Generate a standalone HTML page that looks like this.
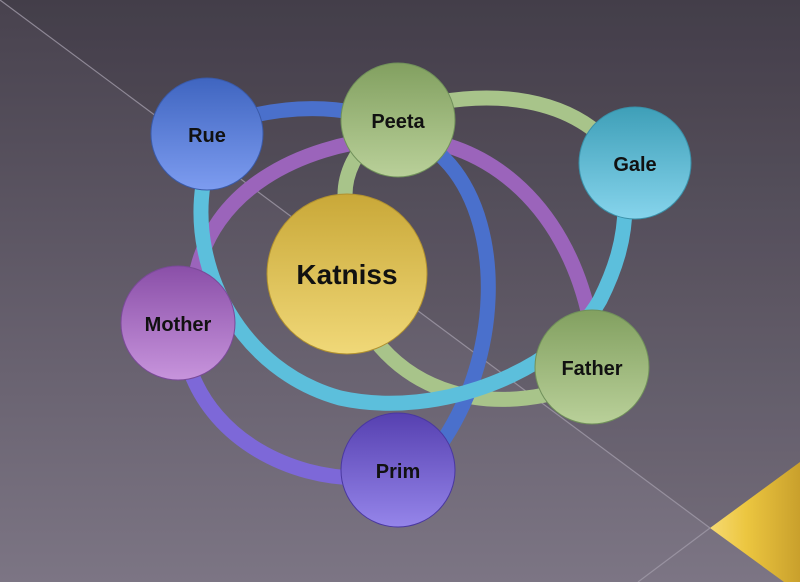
<!DOCTYPE html>
<html><head><meta charset="utf-8"><style>
html,body{margin:0;padding:0;width:800px;height:582px;overflow:hidden}
svg{display:block}
text{font-family:"Liberation Sans",sans-serif;font-weight:bold;fill:#111;text-anchor:middle}
</style></head><body>
<svg width="800" height="582" viewBox="0 0 800 582">
<defs>
<linearGradient id="bg" x1="0" y1="0" x2="0" y2="1">
<stop offset="0" stop-color="#48424e"/><stop offset="1" stop-color="#7c7584"/></linearGradient>
<linearGradient id="yel" x1="0" y1="0" x2="1" y2="0">
<stop offset="0" stop-color="#f6da72"/><stop offset="0.4" stop-color="#ecc640"/><stop offset="1" stop-color="#c9a02c"/></linearGradient>
<linearGradient id="gBlue" x1="0" y1="0" x2="0" y2="1"><stop offset="0" stop-color="#3f65c0"/><stop offset="1" stop-color="#7d9cf0"/></linearGradient>
<linearGradient id="gGreen" x1="0" y1="0" x2="0" y2="1"><stop offset="0" stop-color="#82a060"/><stop offset="1" stop-color="#b9d099"/></linearGradient>
<linearGradient id="gCyan" x1="0" y1="0" x2="0" y2="1"><stop offset="0" stop-color="#3e9fb8"/><stop offset="1" stop-color="#86d4ec"/></linearGradient>
<linearGradient id="gPurp" x1="0" y1="0" x2="0" y2="1"><stop offset="0" stop-color="#8a4fa8"/><stop offset="1" stop-color="#c794dc"/></linearGradient>
<linearGradient id="gViol" x1="0" y1="0" x2="0" y2="1"><stop offset="0" stop-color="#5640b0"/><stop offset="1" stop-color="#9585ea"/></linearGradient>
<linearGradient id="gYel" x1="0" y1="0" x2="0" y2="1"><stop offset="0" stop-color="#c9a838"/><stop offset="1" stop-color="#f0d878"/></linearGradient>
</defs>
<rect width="800" height="582" fill="url(#bg)"/>
<polygon points="0,0 800,0 800,465 710,528" fill="#000" opacity="0.06"/>
<line x1="0" y1="0" x2="710" y2="528" stroke="#a09aa8" stroke-width="1.2" opacity="0.8"/>
<line x1="710" y1="528" x2="638" y2="582" stroke="#a09aa8" stroke-width="1.2" opacity="0.8"/>
<polygon points="710,528 800,462 800,582 784,582" fill="url(#yel)"/>
<g fill="none" stroke-width="15" stroke-linecap="butt">
<!-- violet Mother-Prim -->
<path d="M190,370 C215,440 290,478 360,478" stroke="#7d68d8"/>
<!-- purple ring -->
<path d="M195,280 C210,190 300,145 390,138 C480,135 565,200 590,320" stroke="#9b64bb"/>
<!-- green ring -->
<path d="M345,195 C345,150 390,110 440,102 C500,92 560,100 600,135" stroke="#a8c48a"/>
<path d="M375,340 C410,385 470,410 545,395" stroke="#a8c48a"/>
<!-- blue ring -->
<path d="M250,116 C320,100 400,108 450,165 C505,230 500,360 440,445" stroke="#4a70cc"/>
<!-- cyan ring -->
<path d="M203,185 C190,270 240,370 340,398 C440,420 560,370 600,300 C615,270 625,240 625,205" stroke="#5cbfdc"/>
</g>
<g>
<circle cx="207" cy="134" r="56" fill="url(#gBlue)" stroke="#3a5aa8" stroke-width="1"/>
<circle cx="398" cy="120" r="57" fill="url(#gGreen)" stroke="#70905a" stroke-width="1"/>
<circle cx="635" cy="163" r="56" fill="url(#gCyan)" stroke="#3a90a8" stroke-width="1"/>
<circle cx="347" cy="274" r="80" fill="url(#gYel)" stroke="#b09030" stroke-width="1"/>
<circle cx="178" cy="323" r="57" fill="url(#gPurp)" stroke="#7a4a98" stroke-width="1"/>
<circle cx="592" cy="367" r="57" fill="url(#gGreen)" stroke="#70905a" stroke-width="1"/>
<circle cx="398" cy="470" r="57" fill="url(#gViol)" stroke="#4a38a0" stroke-width="1"/>
</g>
<text x="207" y="142" font-size="20">Rue</text>
<text x="398" y="128" font-size="20">Peeta</text>
<text x="635" y="171" font-size="20">Gale</text>
<text x="347" y="284" font-size="28">Katniss</text>
<text x="178" y="331" font-size="20">Mother</text>
<text x="592" y="375" font-size="20">Father</text>
<text x="398" y="478" font-size="20">Prim</text>
</svg>
</body></html>
